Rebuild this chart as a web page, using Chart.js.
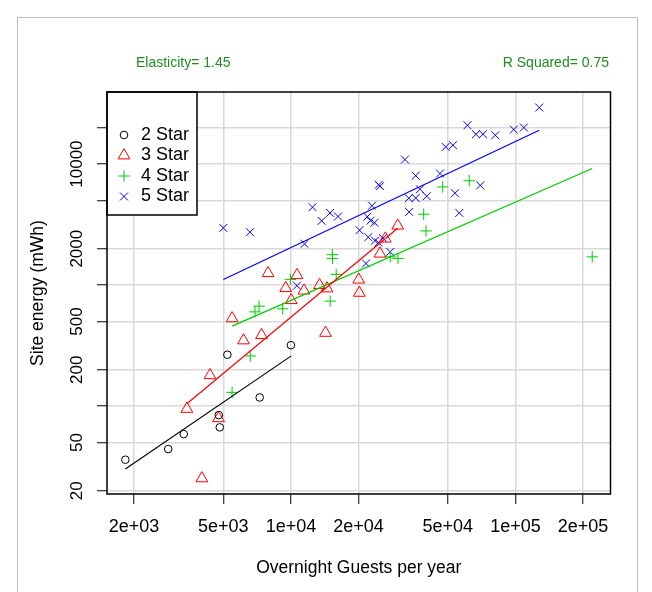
<!DOCTYPE html>
<html>
<head>
<meta charset="utf-8">
<title>Site energy vs overnight guests</title>
<script src="https://cdn.jsdelivr.net/npm/chart.js@4.4.1/dist/chart.umd.min.js"></script>
<style>
  html, body { margin: 0; padding: 0; background: #fff; }
  #wrap { position: relative; width: 652px; height: 592px; overflow: hidden; }
  #chart { display: block; width: 652px; height: 592px; }
  #frame { position: absolute; left: 17px; top: 17px; width: 619px; height: 600px; border: 1px solid #bdbdbd; pointer-events: none; }
</style>
</head>
<body>
<div id="wrap">
  <canvas id="chart" width="652" height="592"></canvas>
  <div id="frame"></div>
</div>
<script>
// values (log-log axes)
const star2X = [1830, 2840, 3330, 4770, 4820, 5210, 7260, 10000];
const star2Y = [36.1, 44.2, 58.8, 84.4, 66.8, 266, 118, 319];

const star3X = [3440, 4010, 4360, 4760, 5470, 6150, 7400, 7910, 9480, 10030, 10640, 11430, 13410, 14480, 14260, 20040, 20170, 24930, 26330, 29900];
const star3Y = [94.9, 25.3, 180, 79.4, 531, 349, 386, 1255, 944, 751, 1208, 900, 999, 938, 403, 1109, 863, 1818, 2419, 3097];

const star4X = [5470, 6590, 6920, 7210, 9190, 9940, 14960, 15290, 15320, 15910, 27700, 29990, 39040, 39970, 47430, 62260, 219800];
const star4Y = [130, 260, 601, 670, 637, 1115, 737, 1784, 1661, 1227, 1712, 1661, 3853, 2805, 6476, 7287, 1712];

const star5X = [5000, 6570, 10640, 11500, 12480, 13710, 14940, 16210, 20210, 21600, 27700, 22970, 21890, 22620, 23570, 22120, 23690, 24550, 25710, 24630, 24930, 32220, 35960, 46130, 37570, 33500, 35960, 40250, 33630, 53800, 56230, 69730, 48910, 52710, 61180, 66730, 71720, 81370, 98350, 109000, 127700];
const star5Y = [2970, 2736, 990, 2191, 4402, 3394, 3950, 3690, 2843, 1510, 1882, 4530, 3675, 3406, 3279, 2489, 2329, 2241, 2442, 6753, 6563, 10900, 8012, 8356, 6199, 5224, 5245, 5427, 4026, 5745, 3950, 6664, 13860, 14310, 20930, 17640, 17640, 17310, 19290, 20040, 29310];

// fitted lines per group (end points)
const fit2X = [1830, 10000];
const fit2Y = [30.2, 259];
const fit3X = [3440, 29900];
const fit3Y = [104.6, 2953];
const fit4X = [5470, 219800];
const fit4Y = [458, 9190];
const fit5X = [5000, 127700];
const fit5Y = [1113, 19030];

const legendLabels = ['2 Star', '3 Star', '4 Star', '5 Star'];
const xTicks = [2000, 5000, 10000, 20000, 50000, 100000, 200000];
const xTickLabels = ['2e+03', '5e+03', '1e+04', '2e+04', '5e+04', '1e+05', '2e+05'];
const yTicks = [20, 50, 100, 200, 500, 1000, 2000, 5000, 10000, 20000];
const yTickLabels = ['20', '50', '', '200', '500', '', '2000', '', '10000', ''];

const xTitle = 'Overnight Guests per year';
const yTitle = 'Site energy (mWh)';
const noteLeft = 'Elasticity= 1.45';
const noteRight = 'R Squared= 0.75';

const colors = ['#000000', '#ff0000', '#00cd00', '#0000ff'];
const styles = ['circle', 'triangle', 'cross', 'crossRot'];
const radii = [3.8, 6.8, 5.7, 5.6];
const FONT = '"Liberation Sans", Arial, Helvetica, sans-serif';

function pts(xs, ys) {
  return xs.map((x, i) => ({ x: x, y: ys[i] }));
}

function pointSet(i, xs, ys) {
  return {
    label: legendLabels[i],
    data: pts(xs, ys),
    showLine: false,
    pointStyle: styles[i],
    pointRadius: radii[i],
    pointBorderWidth: 1,
    borderColor: colors[i],
    backgroundColor: 'rgba(0,0,0,0)',
  };
}

function lineSet(i, xs, ys) {
  return {
    label: 'fit ' + legendLabels[i],
    data: pts(xs, ys),
    showLine: true,
    pointRadius: 0,
    borderWidth: 1.2,
    borderColor: colors[i],
    backgroundColor: colors[i],
  };
}

function drawMarker(ctx, i, x, y) {
  ctx.save();
  ctx.strokeStyle = colors[i];
  ctx.fillStyle = 'rgba(0,0,0,0)';
  ctx.lineWidth = 1;
  Chart.helpers.drawPoint(ctx, { pointStyle: styles[i], radius: radii[i], borderWidth: 1, rotation: 0 }, x, y);
  ctx.restore();
}

// R-like decorations: box, tick labels, titles, legend
const rDecor = {
  id: 'rDecor',
  afterDraw(chart) {
    const ctx = chart.ctx;
    const a = chart.chartArea;
    const xs = chart.scales.x;
    const ys = chart.scales.y;
    ctx.save();

    ctx.fillStyle = '#000';
    ctx.font = '18px ' + FONT;
    ctx.textAlign = 'center';
    ctx.textBaseline = 'middle';
    xTicks.forEach((v, i) => {
      ctx.fillText(xTickLabels[i], xs.getPixelForValue(v), 527);
    });
    ctx.font = '17px ' + FONT;
    yTicks.forEach((v, i) => {
      if (!yTickLabels[i]) return;
      ctx.save();
      ctx.translate(77, ys.getPixelForValue(v));
      ctx.rotate(-Math.PI / 2);
      ctx.fillText(yTickLabels[i], 0, 0);
      ctx.restore();
    });

    ctx.font = '17.5px ' + FONT;
    ctx.fillText(xTitle, (a.left + a.right) / 2, 568);
    ctx.save();
    ctx.translate(38, (a.top + a.bottom) / 2);
    ctx.rotate(-Math.PI / 2);
    ctx.fillText(yTitle, 0, 0);
    ctx.restore();

    ctx.fillStyle = '#228B22';
    ctx.font = '14px ' + FONT;
    ctx.textAlign = 'left';
    ctx.fillText(noteLeft, 136, 63);
    ctx.textAlign = 'right';
    ctx.fillText(noteRight, 609, 63);

    // legend box in the top left corner
    const lx = a.left, ly = a.top, lw = 90, lh = 123;
    ctx.fillStyle = '#fff';
    ctx.fillRect(lx, ly, lw, lh);
    ctx.strokeStyle = '#000';
    ctx.lineWidth = 1.5;
    ctx.strokeRect(lx, ly, lw, lh);
    ctx.font = '18px ' + FONT;
    ctx.textAlign = 'left';
    legendLabels.forEach((lab, i) => {
      const y = ly + 43 + i * 20.5;
      drawMarker(ctx, i, lx + 17, y);
      ctx.fillStyle = '#000';
      ctx.fillText(lab, lx + 34, y);
    });

    // plot box
    ctx.strokeStyle = '#000';
    ctx.lineWidth = 1.5;
    ctx.strokeRect(a.left, a.top, a.right - a.left, a.bottom - a.top);
    ctx.restore();
  }
};

const gridOpts = {
  color: '#d9d9d9',
  lineWidth: 1.5,
  drawTicks: true,
  tickColor: '#000',
  tickWidth: 1,
  tickLength: 10,
};

new Chart(document.getElementById('chart'), {
  type: 'scatter',
  data: {
    datasets: [
      lineSet(0, fit2X, fit2Y),
      lineSet(1, fit3X, fit3Y),
      lineSet(2, fit4X, fit4Y),
      lineSet(3, fit5X, fit5Y),
      pointSet(0, star2X, star2Y),
      pointSet(1, star3X, star3Y),
      pointSet(2, star4X, star4Y),
      pointSet(3, star5X, star5Y),
    ],
  },
  options: {
    responsive: false,
    animation: false,
    events: [],
    layout: { padding: { left: 0, top: 92, right: 41.5, bottom: 0 } },
    plugins: {
      legend: { display: false },
      tooltip: { enabled: false },
    },
    scales: {
      x: {
        type: 'logarithmic',
        min: 1516,
        max: 265200,
        bounds: 'data',
        afterBuildTicks: (s) => { s.ticks = xTicks.map((v) => ({ value: v })); },
        afterFit: (s) => { s.height = 98; },
        ticks: { display: false },
        grid: gridOpts,
        border: { display: false },
      },
      y: {
        type: 'logarithmic',
        min: 18.8,
        max: 39400,
        bounds: 'data',
        afterBuildTicks: (s) => { s.ticks = yTicks.map((v) => ({ value: v })); },
        afterFit: (s) => { s.width = 107; },
        ticks: { display: false },
        grid: gridOpts,
        border: { display: false },
      },
    },
  },
  plugins: [rDecor],
});
</script>
</body>
</html>
